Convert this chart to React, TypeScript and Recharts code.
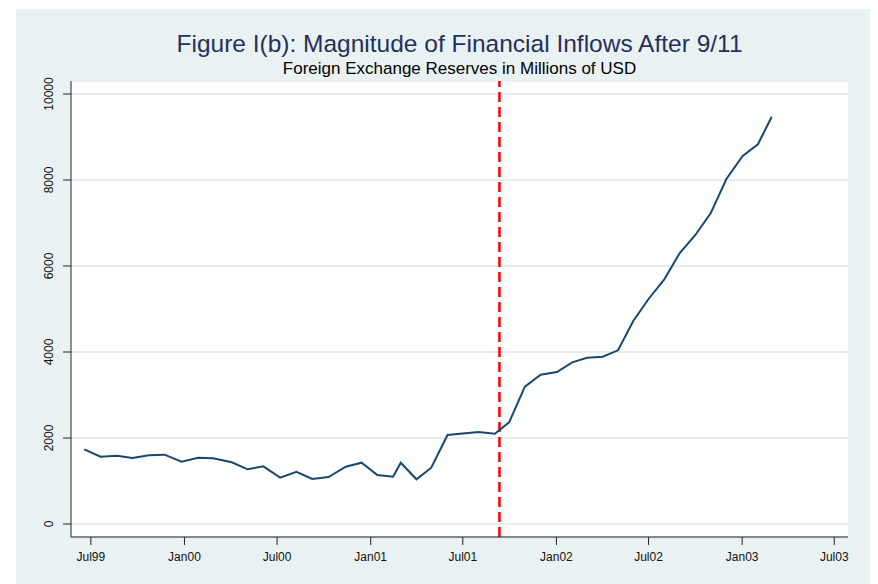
import React from 'react';
import { LineChart, Line, XAxis, YAxis, CartesianGrid, ReferenceLine } from 'recharts';

// Days since 1 Jul 1999 for each monthly observation
const days = [-13, 19, 51, 82, 114, 145, 178, 211, 240, 277, 308, 339, 372, 404, 435, 467, 501, 532, 563, 594, 609, 640, 669, 701, 731, 762, 794, 822, 853, 884, 916, 946, 975, 1006, 1036, 1066, 1096, 1127, 1157, 1188, 1218, 1249, 1281, 1311, 1338];
// Foreign exchange reserves, millions of USD
const reserves = [1737, 1566, 1589, 1535, 1597, 1612, 1449, 1542, 1528, 1435, 1272, 1342, 1077, 1216, 1047, 1093, 1333, 1426, 1140, 1100, 1426, 1040, 1310, 2070, 2105, 2140, 2100, 2365, 3193, 3472, 3535, 3760, 3868, 3891, 4039, 4721, 5233, 5690, 6295, 6721, 7225, 8023, 8558, 8830, 9472];

const xTickDays = [0, 184, 366, 550, 731, 915, 1096, 1280, 1461];
const xTickLabels = ['Jul99', 'Jan00', 'Jul00', 'Jan01', 'Jul01', 'Jan02', 'Jul02', 'Jan03', 'Jul03'];
const yTicks = [0, 2000, 4000, 6000, 8000, 10000];
const eventDay = 803; // 11 Sep 2001

const title = 'Figure I(b): Magnitude of Financial Inflows After 9/11';
const subtitle = 'Foreign Exchange Reserves in Millions of USD';

const data = days.map((d, i) => ({ day: d, value: reserves[i] }));

const FONT = '"Liberation Sans", Arial, Helvetica, sans-serif';
const BG = '#EAF1F3';

const YTick = (props: any) => {
  const { x, y, payload } = props;
  const bx = x - 10;
  return (
    <text x={bx} y={y} transform={`rotate(-90 ${bx} ${y})`} textAnchor="middle" fontSize={12} fill="#111" fontFamily={FONT}>
      {payload.value}
    </text>
  );
};

export default function App() {
  return (
    <div style={{ position: 'relative', width: 870, height: 576, background: '#fff', fontFamily: FONT }}>
      <div style={{ position: 'absolute', left: 8, top: 1, width: 855, height: 575, background: BG }} />
      <div style={{ position: 'absolute', left: 63, width: 777, top: 23, textAlign: 'center', fontSize: 24.5, lineHeight: '25px', color: '#25305C', whiteSpace: 'nowrap' }}>
        {title}
      </div>
      <div style={{ position: 'absolute', left: 63, width: 777, top: 52, textAlign: 'center', fontSize: 17, lineHeight: '17px', color: '#000', whiteSpace: 'nowrap' }}>
        {subtitle}
      </div>
      <div style={{ position: 'absolute', left: 0, top: 0 }}>
        <LineChart width={870} height={576} data={data} margin={{ top: 73, right: 30, bottom: 17, left: 23 }}>
          <CartesianGrid horizontal={true} vertical={false} fill="#ffffff" stroke="#E6EEF1" strokeWidth={2} />
          <XAxis
            dataKey="day"
            type="number"
            domain={[-39, 1488]}
            ticks={xTickDays}
            tickFormatter={(v: number) => xTickLabels[xTickDays.indexOf(v)] ?? ''}
            allowDataOverflow
            height={30}
            tickSize={8}
            tickMargin={7}
            stroke="#222"
            tick={{ fontSize: 12, fill: '#111', fontFamily: FONT }}
          />
          <YAxis
            type="number"
            domain={[-302, 10302]}
            ticks={yTicks}
            allowDataOverflow
            width={40}
            tickSize={8}
            tickMargin={0}
            stroke="#222"
            tick={<YTick />}
          />
          <ReferenceLine x={eventDay} stroke="#FF0000" strokeWidth={2.5} strokeDasharray="10 5" />
          <Line type="linear" dataKey="value" stroke="#1A476F" strokeWidth={2} dot={false} isAnimationActive={false} />
        </LineChart>
      </div>
    </div>
  );
}
